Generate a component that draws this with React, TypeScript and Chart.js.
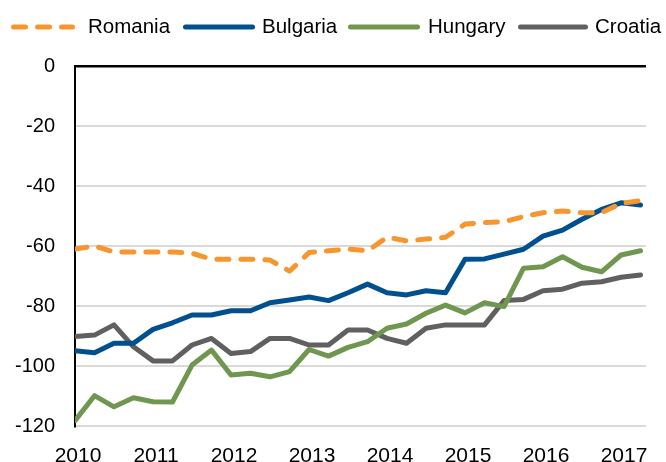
import React, { useEffect, useRef } from "react";
import { Chart, registerables } from "chart.js";

Chart.register(...registerables);

const years = ["2010", "2011", "2012", "2013", "2014", "2015", "2016", "2017"];
const yTicks = [0, -20, -40, -60, -80, -100, -120];

const romania = [-61, -60, -62, -62, -62, -62, -62.4, -64.4, -64.4, -64.4, -64.7, -68.4, -62.2, -61.6, -61, -61.6, -57.1, -58.3, -57.7, -57.1, -52.7, -52.2, -51.9, -50.2, -48.9, -48.3, -48.9, -48.9, -45.8, -44.9];
const bulgaria = [-94.9, -95.6, -92.4, -92.4, -87.8, -85.6, -83, -83, -81.6, -81.6, -78.9, -78, -77, -78.2, -75.6, -72.7, -75.6, -76.3, -74.9, -75.6, -64.4, -64.3, -62.7, -61.1, -56.7, -54.7, -51.1, -47.8, -45.6, -46.3];
const hungary = [-118.2, -109.9, -113.6, -110.6, -111.9, -112, -99.7, -94.7, -103, -102.4, -103.6, -101.9, -94.5, -96.7, -93.8, -91.9, -87.4, -86, -82.4, -79.7, -82.3, -78.9, -80.2, -67.4, -66.9, -63.6, -67.1, -68.6, -63, -61.6];
const croatia = [-90.2, -89.7, -86.3, -93.6, -98.3, -98.3, -93, -90.8, -95.8, -95.2, -90.8, -90.8, -93, -93, -88, -88, -90.8, -92.4, -87.4, -86.3, -86.3, -86.3, -78.2, -77.8, -74.9, -74.4, -72.4, -71.9, -70.4, -69.7];

const seriesNames = ["Romania", "Bulgaria", "Hungary", "Croatia"];
const seriesColors = ["#F7962E", "#00508F", "#6F974F", "#606060"];
const seriesValues = [romania, bulgaria, hungary, croatia];
const quartersPerYear = 4;

const FONT = "'Liberation Sans', Arial, sans-serif";

const legendPos = [
  { lineLeft: 11, lineWidth: 64, textLeft: 88 },
  { lineLeft: 183, lineWidth: 72, textLeft: 262 },
  { lineLeft: 348, lineWidth: 72, textLeft: 428 },
  { lineLeft: 518, lineWidth: 70, textLeft: 595 },
];

export default function App() {
  const canvasRef = useRef<HTMLCanvasElement | null>(null);

  useEffect(() => {
    const canvas = canvasRef.current;
    if (!canvas) return;
    const chart = new Chart(canvas, {
      type: "line",
      data: {
        datasets: seriesValues.map((vals, s) => ({
          label: seriesNames[s],
          data: vals.map((v, i) => ({ x: i, y: v })),
          borderColor: seriesColors[s],
          backgroundColor: seriesColors[s],
          borderWidth: 5,
          borderDash: s === 0 ? [12, 12] : [],
          borderCapStyle: "round",
          borderJoinStyle: "round",
          pointRadius: 0,
          pointHoverRadius: 0,
          tension: 0,
          fill: false,
        })),
      },
      options: {
        responsive: false,
        animation: false,
        events: [],
        layout: { padding: { left: 0, top: 66, right: 20, bottom: 0 } },
        plugins: { legend: { display: false }, tooltip: { enabled: false } },
        scales: {
          x: {
            type: "linear",
            min: 0,
            max: 29.28,
            grid: { display: false, drawTicks: false },
            border: { display: false },
            afterFit: (scale: any) => {
              scale.height = 36;
            },
            afterBuildTicks: (scale: any) => {
              scale.ticks = years.map((_, k) => ({ value: k * quartersPerYear }));
            },
            ticks: {
              autoSkip: false,
              maxRotation: 0,
              padding: 18,
              labelOffset: 3,
              color: "#000",
              font: { family: FONT, size: 21 },
              callback: (v: any) => years[Math.round(Number(v) / quartersPerYear)] ?? "",
            },
          },
          y: {
            type: "linear",
            min: -120,
            max: 0,
            afterFit: (scale: any) => {
              scale.width = 75;
            },
            afterBuildTicks: (scale: any) => {
              scale.ticks = yTicks.map((v) => ({ value: v }));
            },
            grid: {
              drawTicks: false,
              color: (ctx: any) => (ctx.tick && ctx.tick.value === 0 ? "#000" : "#D9D9D9"),
              lineWidth: (ctx: any) => (ctx.tick && ctx.tick.value === 0 ? 2.5 : 2),
            },
            border: { display: true, color: "#000", width: 2 },
            ticks: {
              padding: 20,
              color: "#000",
              font: { family: FONT, size: 20 },
            },
          },
        },
      },
    } as any);
    return () => chart.destroy();
  }, []);

  return (
    <div
      style={{
        position: "fixed",
        left: 0,
        top: 0,
        width: 666,
        height: 462,
        overflow: "hidden",
        background: "#fff",
        fontFamily: FONT,
      }}
    >
      <canvas ref={canvasRef} width={666} height={462} style={{ position: "absolute", left: 0, top: 0, width: 666, height: 462 }} />
      {seriesNames.map((name, s) => {
        const p = legendPos[s];
        return (
          <React.Fragment key={name}>
            <svg
              width={p.lineWidth}
              height={10}
              style={{ position: "absolute", left: p.lineLeft, top: 22 }}
            >
              <line
                x1={2.5}
                y1={5}
                x2={p.lineWidth - 2.5}
                y2={5}
                stroke={seriesColors[s]}
                strokeWidth={5}
                strokeLinecap="round"
                strokeDasharray={s === 0 ? "12 12" : undefined}
              />
            </svg>
            <div
              style={{
                position: "absolute",
                left: p.textLeft,
                top: 16,
                height: 20,
                lineHeight: "20px",
                fontSize: 20.5,
                color: "#000",
                whiteSpace: "nowrap",
              }}
            >
              {name}
            </div>
          </React.Fragment>
        );
      })}
    </div>
  );
}
